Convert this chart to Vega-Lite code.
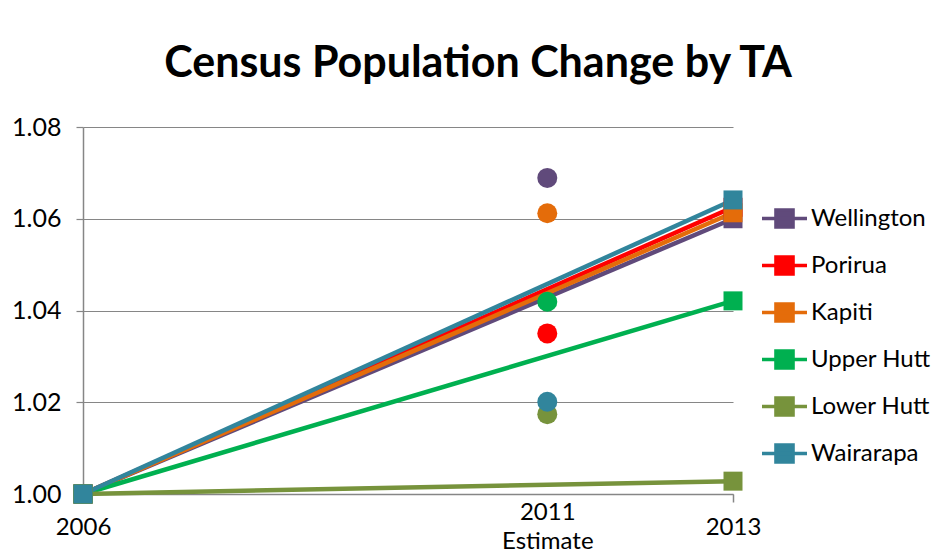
{
  "$schema": "https://vega.github.io/schema/vega-lite/v6.json",
  "autosize": {"type": "none"},
  "width": 650,
  "height": 367,
  "padding": {"left": 83, "top": 127, "right": 200, "bottom": 60},
  "background": "white",
  "title": {
    "text": "Census Population Change by TA",
    "font": "Lato",
    "fontSize": 43,
    "fontWeight": "bold",
    "color": "black",
    "anchor": "middle",
    "dx": 70,
    "baseline": "alphabetic",
    "offset": -5
  },
  "config": {
    "view": {"stroke": null},
    "font": "Lato"
  },
  "data": {
    "values": [
      {"ta": "Wellington", "year": 2006, "value": 1.0, "kind": "Census"},
      {"ta": "Wellington", "year": 2013, "value": 1.06, "kind": "Census"},
      {"ta": "Porirua", "year": 2006, "value": 1.0, "kind": "Census"},
      {"ta": "Porirua", "year": 2013, "value": 1.0625, "kind": "Census"},
      {"ta": "Kapiti", "year": 2006, "value": 1.0, "kind": "Census"},
      {"ta": "Kapiti", "year": 2013, "value": 1.0613, "kind": "Census"},
      {"ta": "Upper Hutt", "year": 2006, "value": 1.0, "kind": "Census"},
      {"ta": "Upper Hutt", "year": 2013, "value": 1.0421, "kind": "Census"},
      {"ta": "Lower Hutt", "year": 2006, "value": 1.0, "kind": "Census"},
      {"ta": "Lower Hutt", "year": 2013, "value": 1.0028, "kind": "Census"},
      {"ta": "Wairarapa", "year": 2006, "value": 1.0, "kind": "Census"},
      {"ta": "Wairarapa", "year": 2013, "value": 1.0641, "kind": "Census"},
      {"ta": "Wellington", "year": 2011, "value": 1.0689, "kind": "Estimate"},
      {"ta": "Porirua", "year": 2011, "value": 1.035, "kind": "Estimate"},
      {"ta": "Kapiti", "year": 2011, "value": 1.0612, "kind": "Estimate"},
      {"ta": "Upper Hutt", "year": 2011, "value": 1.0419, "kind": "Estimate"},
      {"ta": "Lower Hutt", "year": 2011, "value": 1.0174, "kind": "Estimate"},
      {"ta": "Wairarapa", "year": 2011, "value": 1.0201, "kind": "Estimate"}
    ]
  },
  "encoding": {
    "x": {
      "field": "year",
      "type": "quantitative",
      "scale": {"domain": [2006, 2013], "nice": false, "zero": false},
      "axis": {
        "title": null,
        "values": [2006, 2011, 2013],
        "format": "d",
        "labelExpr": "datum.value == 2011 ? ['2011', 'Estimate'] : datum.label",
        "grid": false,
        "domainColor": "#868686",
        "domainWidth": 1.5,
        "tickSize": 8,
        "tickWidth": 1.5,
        "tickColor": {"condition": {"test": "datum.value == 2013", "value": "#868686"}, "value": "transparent"},
        "labelFontSize": 24,
        "labelColor": "black",
        "labelBaseline": "middle",
        "labelPadding": {"condition": {"test": "datum.value == 2011", "value": 10}, "value": 25},
        "labelLineHeight": 29,
        "labelFlush": false,
        "labelOverlap": false
      }
    },
    "y": {
      "field": "value",
      "type": "quantitative",
      "scale": {"domain": [1.0, 1.08], "nice": false, "zero": false},
      "axis": {
        "title": null,
        "values": [1.0, 1.02, 1.04, 1.06, 1.08],
        "format": ".2f",
        "gridColor": "#868686",
        "gridWidth": 1.2,
        "domainColor": "#868686",
        "domainWidth": 1.5,
        "tickColor": "#868686",
        "tickSize": 7,
        "tickWidth": 1.2,
        "labelFontSize": 25,
        "labelColor": "black",
        "labelPadding": 15
      }
    },
    "color": {
      "field": "ta",
      "type": "nominal",
      "scale": {
        "domain": ["Wellington", "Porirua", "Kapiti", "Upper Hutt", "Lower Hutt", "Wairarapa"],
        "range": ["#604A7B", "#FF0000", "#E46C0A", "#00B050", "#77933C", "#31859C"]
      },
      "legend": {
        "orient": "none",
        "legendX": 677,
        "legendY": 67,
        "title": null,
        "symbolType": "M-1,0H1M-0.38,-0.38H0.38V0.38H-0.38Z",
        "symbolSize": 2025,
        "symbolStrokeWidth": 3.5,
        "symbolOpacity": 1,
        "labelFontSize": 24,
        "labelColor": "black",
        "labelOffset": 2,
        "rowPadding": 6,
        "labelLimit": 300,
        "encode": {
          "symbols": {
            "update": {
              "fill": {"scale": "color", "field": "value"},
              "stroke": {"scale": "color", "field": "value"},
              "fillOpacity": {"value": 1}
            }
          }
        }
      }
    }
  },
  "layer": [
    {
      "transform": [{"filter": "datum.kind == 'Census'"}],
      "mark": {
        "type": "line",
        "strokeWidth": 4.5,
        "point": {"shape": "square", "size": 361, "filled": true, "opacity": 1}
      }
    },
    {
      "transform": [{"filter": "datum.kind == 'Estimate'"}],
      "mark": {"type": "point", "shape": "circle", "size": 400, "filled": true, "opacity": 1}
    }
  ]
}
